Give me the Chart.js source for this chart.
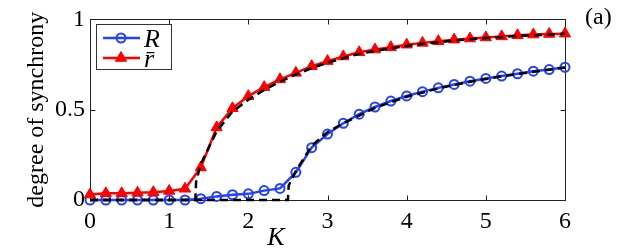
<!DOCTYPE html>
<html>
<head>
<meta charset="utf-8">
<script src="https://cdn.jsdelivr.net/npm/chart.js@4.4.0/dist/chart.umd.min.js"></script>
<style>
  html, body { margin: 0; padding: 0; background: #fff; }
  #wrap { width: 623px; height: 250px; }
</style>
</head>
<body>
<div id="wrap"><canvas id="syncChart"></canvas></div>
<script>
//
// data
//
const kValues = [0, 0.2, 0.4, 0.6, 0.8, 1.0, 1.2, 1.4, 1.6, 1.8, 2.0, 2.2, 2.4, 2.6, 2.8, 3.0,
  3.2, 3.4, 3.6, 3.8, 4.0, 4.2, 4.4, 4.6, 4.8, 5.0, 5.2, 5.4, 5.6, 5.8, 6.0];
// R (blue circles)
const bigRValues = [0, 0, 0, 0, 0, 0, 0, 0.007, 0.02, 0.029, 0.034, 0.052, 0.064, 0.153, 0.29, 0.365,
  0.425, 0.475, 0.515, 0.548, 0.576, 0.6, 0.621, 0.64, 0.658, 0.673, 0.686, 0.699, 0.713, 0.722, 0.735];
// r-bar (red triangles)
const rBarValues = [0.03, 0.037, 0.037, 0.04, 0.043, 0.05, 0.062, 0.18, 0.402, 0.508, 0.575, 0.625, 0.668, 0.704, 0.741, 0.769,
  0.795, 0.818, 0.833, 0.846, 0.86, 0.87, 0.879, 0.888, 0.894, 0.9, 0.906, 0.912, 0.916, 0.919, 0.921];

// theory curves (black dashed)
const bigRTheoryK = [0, 2.5, 2.51, 2.6, 2.8, 3.0, 3.2, 3.6, 4.0, 4.4, 4.8, 5.2, 5.6, 6.0];
const bigRTheory = [0, 0, 0.08, 0.16, 0.3, 0.375, 0.425, 0.51, 0.572, 0.618, 0.655, 0.685, 0.71, 0.733];
const rBarTheoryK = [0, 1.33, 1.34, 1.4, 1.6, 1.8, 2.0, 2.2, 2.4, 2.6, 2.8, 3.0, 3.4, 3.8, 4.2, 4.6, 5.0, 5.4, 5.8, 6.0];
const rBarTheory = [0, 0, 0.1, 0.2, 0.38, 0.49, 0.555, 0.61, 0.655, 0.695, 0.73, 0.76, 0.81, 0.84, 0.865, 0.883, 0.897, 0.908, 0.916, 0.92];

const xTicks = [0, 1, 2, 3, 4, 5, 6];
const yTicks = [0, 0.5, 1];

const serif = "'Liberation Serif', 'Times New Roman', serif";
const pts = (xs, ys) => xs.map((x, i) => ({x: x, y: ys[i]}));

Chart.defaults.font.family = serif;
Chart.defaults.font.size = 24;
Chart.defaults.color = '#000';

// box round the plot with inward ticks (matlab style)
const frame = {
  id: 'frame',
  beforeDatasetsDraw(chart) {
    const {ctx, chartArea: a, scales} = chart;
    const l = Math.round(a.left) + 0.5, r = Math.round(a.right) + 0.5;
    const t = Math.round(a.top) + 0.5, b = Math.round(a.bottom) + 0.5;
    ctx.save();
    ctx.strokeStyle = '#222';
    ctx.lineWidth = 1;
    ctx.strokeRect(l, t, r - l, b - t);
    ctx.beginPath();
    scales.x.ticks.forEach(tk => {
      const px = Math.round(scales.x.getPixelForValue(tk.value)) + 0.5;
      ctx.moveTo(px, b); ctx.lineTo(px, b - 5);
      ctx.moveTo(px, t); ctx.lineTo(px, t + 5);
    });
    scales.y.ticks.forEach(tk => {
      const py = Math.round(scales.y.getPixelForValue(tk.value)) + 0.5;
      ctx.moveTo(l, py); ctx.lineTo(l + 5, py);
      ctx.moveTo(r, py); ctx.lineTo(r - 5, py);
    });
    ctx.stroke();
    ctx.restore();
  }
};

// legend box in the top left corner, line + marker for each series
const legendBox = {
  id: 'legendBox',
  afterDatasetsDraw(chart) {
    const {ctx, chartArea: a} = chart;
    const x = Math.round(a.left) + 6, y = Math.round(a.top) + 5, w = 75, h = 45;
    ctx.save();
    ctx.fillStyle = '#fff';
    ctx.fillRect(x, y, w, h);
    ctx.strokeStyle = '#333';
    ctx.lineWidth = 1;
    ctx.strokeRect(x + 0.5, y + 0.5, w, h);
    chart.data.datasets.filter(d => d.inLegend).forEach((d, i) => {
      const ly = y + 14 + i * 20;
      ctx.strokeStyle = d.borderColor;
      ctx.lineWidth = d.borderWidth;
      ctx.beginPath();
      ctx.moveTo(x + 7, ly);
      ctx.lineTo(x + 44, ly);
      ctx.stroke();
      ctx.fillStyle = d.pointBackgroundColor;
      ctx.strokeStyle = d.pointBorderColor;
      ctx.lineWidth = d.pointBorderWidth;
      Chart.helpers.drawPoint(ctx, {pointStyle: d.pointStyle, rotation: 0,
        radius: d.pointRadius, borderWidth: d.pointBorderWidth}, x + 25, ly);
      ctx.fillStyle = '#000';
      ctx.font = 'italic 26px ' + serif;
      ctx.textBaseline = 'alphabetic';
      ctx.textAlign = 'left';
      ctx.fillText(d.label, x + 48, ly + 8.5);
    });
    ctx.restore();
  }
};

// x axis name and panel tag
const labels = {
  id: 'labels',
  afterDraw(chart) {
    const {ctx, chartArea: a} = chart;
    ctx.save();
    ctx.fillStyle = '#000';
    ctx.textBaseline = 'alphabetic';
    ctx.font = 'italic 26px ' + serif;
    ctx.textAlign = 'center';
    ctx.fillText('K', a.left + 186, 245);
    ctx.font = '24px ' + serif;
    ctx.textAlign = 'left';
    ctx.fillText('(a)', a.right + 20, 24);
    ctx.restore();
  }
};

const syncChart = new Chart("syncChart", {
  type: "line",
  data: {
    datasets: [
      {
        label: 'r\u0304 theory',
        data: pts(rBarTheoryK, rBarTheory),
        borderColor: "#000",
        borderWidth: 2.5,
        borderDash: [8, 5],
        pointRadius: 0,
        order: 0
      },
      {
        label: 'R theory',
        data: pts(bigRTheoryK, bigRTheory),
        borderColor: "#000",
        borderWidth: 2.5,
        borderDash: [8, 5],
        pointRadius: 0,
        order: 0
      },
      {
        label: 'R',
        inLegend: true,
        data: pts(kValues, bigRValues),
        borderColor: "rgb(35,65,255)",
        borderWidth: 2.5,
        pointStyle: 'circle',
        pointRadius: 4.5,
        pointBorderWidth: 2,
        pointBorderColor: "rgb(35,65,255)",
        pointBackgroundColor: "rgba(255,255,255,0)",
        order: 2
      },
      {
        label: 'r\u0304',
        inLegend: true,
        data: pts(kValues, rBarValues),
        borderColor: "rgb(255,0,0)",
        borderWidth: 2.5,
        pointStyle: 'triangle',
        pointRadius: 6.5,
        pointBorderWidth: 1,
        pointBorderColor: "rgb(255,0,0)",
        pointBackgroundColor: "rgb(255,0,0)",
        order: 1
      }
    ]
  },
  options: {
    responsive: true,
    maintainAspectRatio: false,
    animation: false,
    clip: false,
    layout: {padding: {top: 18, right: 58, left: 0, bottom: 0}},
    plugins: {
      legend: {display: false},
      tooltip: {enabled: false}
    },
    scales: {
      x: {
        type: 'linear',
        min: 0,
        max: 6,
        grid: {display: false, drawTicks: false},
        border: {display: false},
        afterBuildTicks: s => { s.ticks = xTicks.map(v => ({value: v})); },
        afterFit: s => { s.height = 50; },
        ticks: {color: '#000', padding: 7, font: {family: serif, size: 24}, maxRotation: 0,
          callback: v => String(v)}
      },
      y: {
        min: 0,
        max: 1,
        grid: {display: false, drawTicks: false},
        border: {display: false},
        afterBuildTicks: s => { s.ticks = yTicks.map(v => ({value: v})); },
        afterFit: s => { s.width = 90; },
        ticks: {color: '#000', padding: 5, font: {family: serif, size: 24},
          callback: v => String(v)},
        title: {
          display: true,
          text: 'degree of synchrony',
          color: '#000',
          padding: {top: 22, bottom: 0},
          font: {family: serif, size: 24}
        }
      }
    }
  },
  plugins: [frame, legendBox, labels]
});
</script>
</body>
</html>
